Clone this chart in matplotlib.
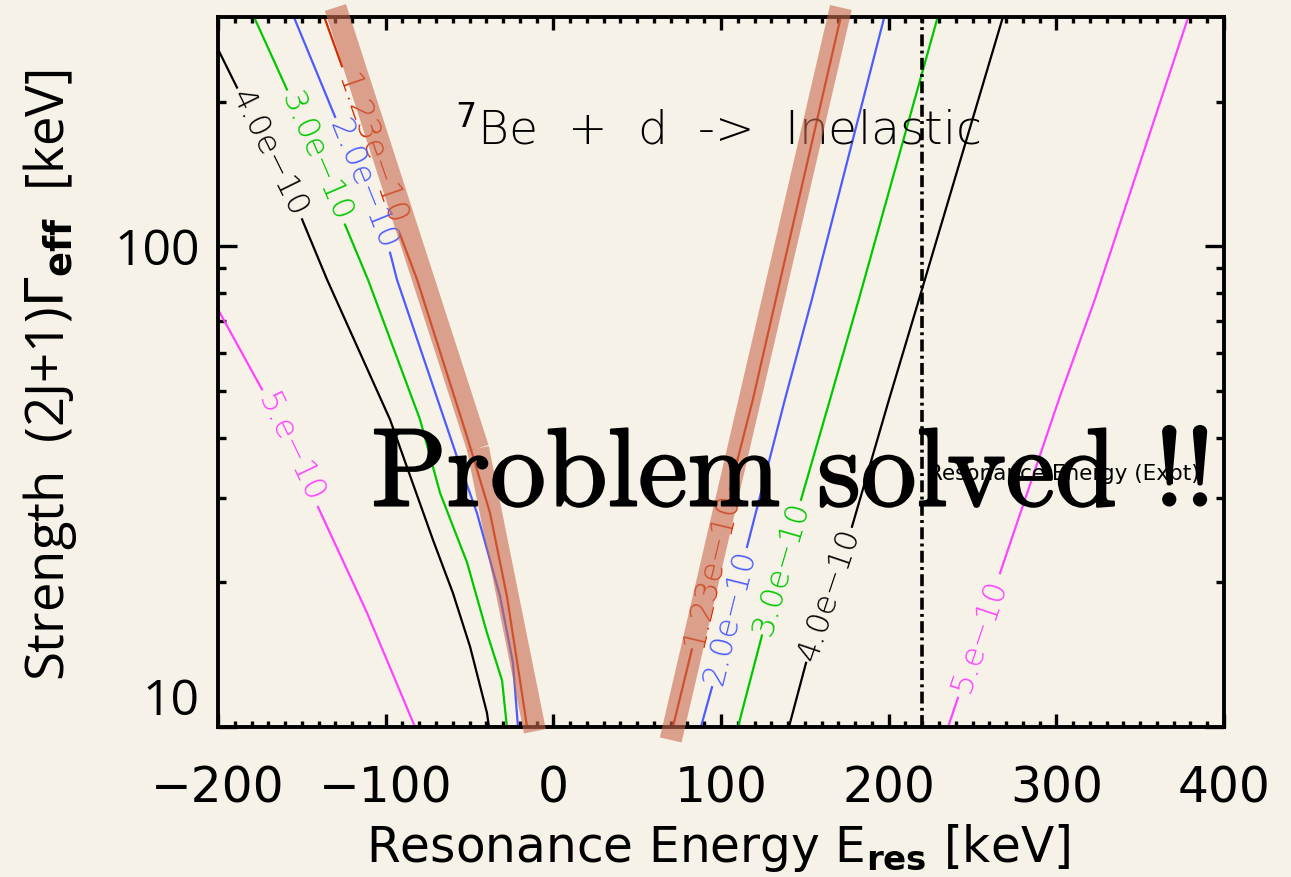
import numpy as np
import matplotlib.pyplot as plt
import matplotlib.patheffects as pe
from matplotlib.ticker import FixedLocator, MultipleLocator, NullFormatter

bg = '#f6f2e7'
plt.rcParams['mathtext.fontset'] = 'dejavusans'

# contour levels and their colours
levels = ['1.23e\u221210', '2.0e\u221210', '3.0e\u221210', '4.0e\u221210', '5.e\u221210']
colors = ['#d42a00', '#4c5cff', '#00c800', '#000000', '#ff44ff']

# falling branches (E_res < 0 side); nan marks where the level label sits
left_E = [
    [-136.8, -126.1, np.nan, -91.5, -81.3, -51.5, -37.8, -27.7, -19.9, -15.7],
    [-155.3, -130.2, np.nan, -97.4, -93.3, -57.5, -45.6, -31.8, -24.1, -21.1],
    [-179.1, -158.9, np.nan, -124.3, -110.6, -79.5, -67.6, -51.5, -39.6, -30.6, -27.7],
    [-200.0, -188.7, np.nan, -149.9, -135.0, -97.4, -71.8, -59.9, -49.7, -39.6, -38.4],
    [-200.0, -173.8, np.nan, -140.4, -111.2, -82.5],
]
left_S = [
    [301, 237, np.nan, 106, 85.3, 40.2, 27.9, 18.7, 12.5, 10.0],
    [303, 186, np.nan, 97.0, 85.3, 36.5, 27.9, 18.7, 13.6, 10.0],
    [303, 212, np.nan, 111, 85.3, 43.6, 30.7, 22.0, 15.7, 12.5, 10.0],
    [257, 214, np.nan, 113.8, 85.3, 43.6, 24.5, 19.0, 14.7, 10.7, 10.0],
    [73.9, 50.4, np.nan, 28.7, 17.3, 10.0],
]

# rising branches (E_res > 0 side)
right_E = [
    [71.3, 82.6, np.nan, 105.3, 119.0, 132.7, 171.5],
    [88.0, 94.6, np.nan, 115.5, 138.1, 154.2, 197.7],
    [110.1, 124.4, np.nan, 147.7, 165.0, 182.2, 229.6],
    [140.5, 150.7, np.nan, 178.1, 200.2, 218.1, 268.5],
    [235.4, 241.3, np.nan, 266.4, 301.5, 323.0, 379.1],
]
right_S = [
    [10.0, 14.5, np.nan, 31.2, 48.0, 77.6, 301],
    [10.0, 12.1, np.nan, 23.7, 48.0, 77.6, 303],
    [10.0, 15.5, np.nan, 29.7, 48.0, 77.6, 303],
    [10.0, 13.6, np.nan, 26.1, 48.0, 77.6, 303],
    [10.0, 11.5, np.nan, 20.9, 48.0, 77.6, 303],
]

# highlight along the 1.23e-10 level
band_left_E = [-130.0, -45.0, -11.0]
band_left_S = [314, 38.0, 9.8]
band_right_E = [171.5, 70.0]
band_right_S = [314, 9.4]

E_expt = 220.0

fig = plt.figure(figsize=(12.91, 8.77), dpi=100, facecolor=bg)
ax = fig.add_axes([0.1689, 0.1710, 0.7792, 0.8096], facecolor=bg)
ax.set_yscale('log')
ax.set_xlim(-200, 400)
ax.set_ylim(10, 300)


def label_gap(E, S, text, color):
    E = np.asarray(E, float)
    S = np.asarray(S, float)
    i = int(np.where(np.isnan(E))[0][0])
    p0 = ax.transData.transform((E[i - 1], S[i - 1]))
    p1 = ax.transData.transform((E[i + 1], S[i + 1]))
    ang = np.degrees(np.arctan2(p1[1] - p0[1], p1[0] - p0[0]))
    mid = ax.transData.inverted().transform((p0 + p1) / 2)
    ax.text(mid[0], mid[1], text, rotation=ang, rotation_mode='anchor',
            ha='center', va='center', color=color, fontsize=23,
            family='DejaVu Sans', fontweight=200)


for k in range(len(levels)):
    ax.plot(left_E[k], left_S[k], color=colors[k], lw=1.6)
    ax.plot(right_E[k], right_S[k], color=colors[k], lw=1.6)
    label_gap(left_E[k], left_S[k], levels[k], colors[k])
    label_gap(right_E[k], right_S[k], levels[k], colors[k])

band = dict(color='#ca6a50', alpha=0.6, lw=16, solid_capstyle='butt', clip_on=False, zorder=5)
ax.plot(band_left_E[:2], band_left_S[:2], **band)
ax.plot(band_left_E[1:], band_left_S[1:], **band)
ax.plot(band_right_E, band_right_S, **band)

ax.axvline(E_expt, color='k', lw=2.6, dashes=(3.3, 1.2, 0.8, 1.2))
ax.annotate('Resonance Energy (Expt)', xy=(E_expt, 0.357), xycoords=('data', 'axes fraction'),
            xytext=(4, 0), textcoords='offset points', ha='left', va='center',
            fontsize=15.5, family='DejaVu Sans')

ax.text(0.497, 0.821, r'$^7$Be  +  d  ->  Inelastic', transform=ax.transAxes,
        ha='center', va='baseline', fontsize=34, family='DejaVu Sans', fontweight=200)
ax.text(0.572, 0.312, 'Problem solved !!', transform=ax.transAxes,
        ha='center', va='baseline', fontsize=80, family='cmr10', zorder=6,
        path_effects=[pe.withStroke(linewidth=1.5, foreground='k')])

# axes frame and ticks
for sp in ax.spines.values():
    sp.set_linewidth(2.8)
ax.xaxis.set_major_locator(MultipleLocator(100))
ax.xaxis.set_minor_locator(MultipleLocator(10))
ax.yaxis.set_major_locator(FixedLocator([10, 100]))
ax.yaxis.set_minor_locator(FixedLocator([20, 30, 40, 50, 60, 70, 80, 90, 200]))
ax.yaxis.set_major_formatter(lambda v, p: f'{v:g}')
ax.yaxis.set_minor_formatter(NullFormatter())
ax.tick_params(axis='both', which='both', direction='in', top=True, right=True, width=2.4)
ax.tick_params(axis='x', which='major', length=9.5, pad=27, labelsize=35)
ax.tick_params(axis='x', which='minor', length=4.5)
ax.tick_params(axis='y', which='major', length=14, pad=13, labelsize=36)
ax.tick_params(axis='y', which='minor', length=6)
for lab in ax.get_xticklabels():
    lab.set_family('DejaVu Sans')
for lab in ax.get_yticklabels():
    lab.set_family('Open Sans')
ax.yaxis.get_major_ticks()[0].label1.set_va('bottom')

ax.set_xlabel(r'Resonance Energy E$_{\mathbf{res}}$ [keV]', fontsize=35,
              family='DejaVu Sans', va='center')
ax.xaxis.set_label_coords(0.497, -0.170)
ax.set_ylabel(r'Strength  (2J+1)$\Gamma_{\mathbf{eff}}$  [keV]', fontsize=38,
              family='Open Sans', va='center')
ax.yaxis.set_label_coords(-0.167, 0.495)

fig.savefig('out.png', dpi=100, facecolor=bg)
